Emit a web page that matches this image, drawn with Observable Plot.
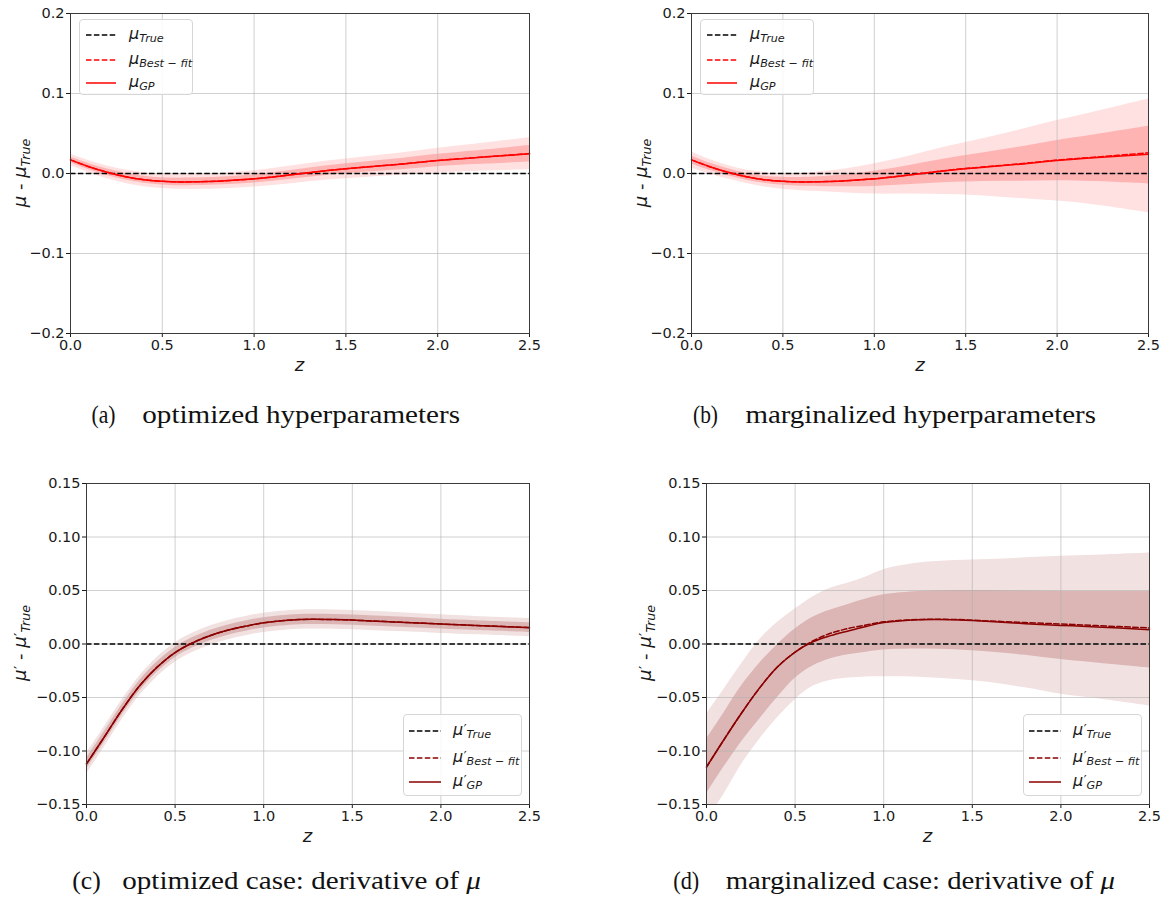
<!DOCTYPE html>
<html><head><meta charset="utf-8">
<script src="https://cdn.jsdelivr.net/npm/d3@7"></script>
<script src="https://cdn.jsdelivr.net/npm/@observablehq/plot@0.6"></script>
<style>
html,body{margin:0;padding:0;background:#fff;}
#root{position:relative;width:1168px;height:898px;overflow:hidden;font-family:"DejaVu Sans",sans-serif;color:#1a1a1a;}
.panel{position:absolute;}
.ylab,.xlab{position:absolute;font-family:"DejaVu Sans",sans-serif;font-size:18px;color:#1a1a1a;white-space:nowrap;line-height:1;}
.ylab{transform:translate(-50%,-50%) rotate(-90deg);}
.xlab{transform:translate(-50%,-50%);font-style:italic;}
.m{font-style:italic;}
.pr{font-style:normal;font-size:0.8em;position:relative;top:-0.15em;margin-left:0.5px;}
.sb{font-size:0.7em;font-style:italic;position:relative;top:0.3em;}
.legend{position:absolute;border:1px solid #d6d6d6;border-radius:4px;background:rgba(255,255,255,0.85);box-sizing:border-box;}
.lrow{position:absolute;left:0;right:0;height:0;}
.lrow svg{position:absolute;top:-3px;}
.lrow .lt{position:absolute;top:0;transform:translateY(-55%);font-family:"DejaVu Sans",sans-serif;font-size:16px;white-space:nowrap;line-height:1;}
#caps{position:absolute;left:0;top:0;pointer-events:none;}
</style>
</head><body><div id="root"></div>
<script>
// ---------- data ----------
const xTicks = [0, 0.5, 1.0, 1.5, 2.0, 2.5];
const yTicksMu = [-0.2, -0.1, 0, 0.1, 0.2];
const yTicksDmu = [-0.15, -0.10, -0.05, 0, 0.05, 0.10, 0.15];
const legendSubs = ["True", "Best \u2212 fit", "GP"];
const captionTags = ["(a)", "(b)", "(c)", "(d)"];
const captionTexts = ["optimized hyperparameters", "marginalized hyperparameters", "optimized case: derivative of ", "marginalized case: derivative of "];

// panel (a) / (b): mu - mu_True
const zMu = [0, 0.1, 0.2, 0.3, 0.4, 0.5, 0.6, 0.8, 1.0, 1.2, 1.4, 1.6, 1.8, 2.0, 2.2, 2.5];
const gpA = [0.017, 0.0085, 0.0015, -0.0040, -0.0078, -0.0098, -0.0105, -0.0096, -0.0067, -0.0017, 0.0037, 0.0079, 0.0117, 0.0162, 0.0196, 0.0246];
const bfA = [0.017, 0.0085, 0.0015, -0.0040, -0.0078, -0.0098, -0.0105, -0.0096, -0.0067, -0.0017, 0.0037, 0.0080, 0.0118, 0.0163, 0.0198, 0.0249];
const hi1A = [0.0205, 0.0122, 0.0055, 0.0002, -0.0034, -0.0053, -0.0058, -0.0047, -0.0016, 0.0038, 0.0096, 0.0143, 0.0187, 0.024, 0.0281, 0.0349];
const lo1A = [0.0135, 0.0048, -0.0025, -0.0082, -0.0122, -0.0143, -0.0152, -0.0145, -0.0118, -0.0072, -0.0022, 0.0015, 0.0047, 0.0084, 0.0111, 0.0143];
const hi2A = [0.024, 0.016, 0.0095, 0.0045, 0.001, -0.0008, -0.0012, 0.0001, 0.0035, 0.0093, 0.0155, 0.0207, 0.0257, 0.0317, 0.0366, 0.0446];
const lo2A = [0.010, 0.001, -0.0065, -0.0125, -0.0166, -0.0188, -0.0198, -0.0193, -0.0169, -0.0127, -0.0081, -0.0049, -0.0023, 0.0007, 0.0026, 0.0046];

const gpB = [0.017, 0.0085, 0.0015, -0.0040, -0.0078, -0.0098, -0.0105, -0.0096, -0.0067, -0.0017, 0.0037, 0.0079, 0.0117, 0.0162, 0.0196, 0.0240];
const bfB = [0.017, 0.0085, 0.0015, -0.0040, -0.0078, -0.0098, -0.0105, -0.0096, -0.0066, -0.0015, 0.0040, 0.0083, 0.0122, 0.0168, 0.0203, 0.0258];
const hi1B = [0.022, 0.013, 0.0058, 0.0003, -0.0033, -0.0048, -0.005, -0.0026, 0.0028, 0.0103, 0.0187, 0.0259, 0.0332, 0.0412, 0.0481, 0.059];
const lo1B = [0.012, 0.004, -0.0028, -0.0083, -0.0123, -0.0148, -0.016, -0.0166, -0.0162, -0.0137, -0.0113, -0.0101, -0.0098, -0.0090, -0.0100, -0.0130];
const hi2B = [0.027, 0.0175, 0.010, 0.0045, 0.0012, 0.0002, 0.0005, 0.0044, 0.0123, 0.0223, 0.0337, 0.0439, 0.0547, 0.0662, 0.0766, 0.093];
const lo2B = [0.007, -0.0005, -0.007, -0.0125, -0.0168, -0.0198, -0.0215, -0.0236, -0.0257, -0.0257, -0.0263, -0.0281, -0.0313, -0.0345, -0.0390, -0.049];

// panel (c) / (d): mu' - mu'_True
const zDmu = [0, 0.1, 0.2, 0.3, 0.4, 0.5, 0.6, 0.7, 0.8, 0.9, 1.0, 1.2, 1.4, 1.6, 1.8, 2.0, 2.2, 2.5];
const gpC = [-0.112, -0.087, -0.0616, -0.039, -0.0214, -0.008, 0.0012, 0.008, 0.013, 0.0167, 0.0198, 0.0228, 0.0228, 0.0216, 0.0202, 0.0186, 0.0172, 0.0153];
const bfC = [-0.112, -0.087, -0.0616, -0.039, -0.0214, -0.008, 0.0012, 0.008, 0.013, 0.0167, 0.0198, 0.0228, 0.0228, 0.0216, 0.0202, 0.0187, 0.0173, 0.0155];
const hi1C = [-0.107, -0.082, -0.0567, -0.0341, -0.0166, -0.0032, 0.006, 0.0128, 0.0178, 0.0215, 0.0246, 0.0276, 0.0276, 0.0263, 0.0249, 0.0232, 0.0218, 0.0198];
const lo1C = [-0.117, -0.092, -0.0665, -0.0439, -0.0262, -0.0128, -0.0036, 0.0032, 0.0082, 0.0119, 0.015, 0.018, 0.018, 0.0169, 0.0155, 0.014, 0.0126, 0.0108];
const hi2C = [-0.1025, -0.0776, -0.0523, -0.0298, -0.0123, 0.001, 0.0102, 0.017, 0.022, 0.0257, 0.0288, 0.0318, 0.0318, 0.0305, 0.029, 0.0273, 0.0258, 0.0238];
const lo2C = [-0.1215, -0.0964, -0.0709, -0.0482, -0.0305, -0.017, -0.0078, -0.001, 0.004, 0.0077, 0.0108, 0.0138, 0.0138, 0.0127, 0.0114, 0.0099, 0.0086, 0.0068];

const gpD = [-0.115, -0.089, -0.064, -0.041, -0.0215, -0.0075, 0.002, 0.0078, 0.0122, 0.0163, 0.0200, 0.0227, 0.0227, 0.021, 0.019, 0.0174, 0.016, 0.0134];
const bfD = [-0.115, -0.089, -0.064, -0.041, -0.0215, -0.0075, 0.0028, 0.0100, 0.0145, 0.0178, 0.0207, 0.0229, 0.0229, 0.0215, 0.020, 0.0187, 0.0172, 0.015];
const hi1D = [-0.089, -0.064, -0.0386, -0.018, -0.0006, 0.014, 0.025, 0.0318, 0.037, 0.042, 0.046, 0.049, 0.050, 0.050, 0.0495, 0.049, 0.049, 0.049];
const lo1D = [-0.140, -0.1146, -0.091, -0.070, -0.050, -0.032, -0.0205, -0.0138, -0.010, -0.0076, -0.0056, -0.0047, -0.0053, -0.0075, -0.0106, -0.0146, -0.0177, -0.0224];
const hi2D = [-0.0655, -0.042, -0.018, 0.004, 0.020, 0.0326, 0.044, 0.052, 0.057, 0.0627, 0.0695, 0.0756, 0.078, 0.079, 0.0805, 0.082, 0.083, 0.085];
const lo2D = [-0.165, -0.140, -0.112, -0.089, -0.069, -0.052, -0.0395, -0.034, -0.0318, -0.0308, -0.0307, -0.031, -0.033, -0.036, -0.041, -0.047, -0.051, -0.058];

// ---------- drawing ----------
const root = document.getElementById("root");

function makePanel(o) {
  const rows = o.z.map((zz, i) => ({z: zz, gp: o.gp[i], bf: o.bf[i], lo1: o.lo1[i], hi1: o.hi1[i], lo2: o.lo2[i], hi2: o.hi2[i]}));
  const fmt = d => (d < -1e-9 ? "\u2212" : "") + Math.abs(d).toFixed(o.digits);
  const dash = "5.5,2.4";
  const cv = "catmull-rom";
  const plot = Plot.plot({
    width: o.width, height: o.height,
    marginLeft: o.ml, marginRight: o.mr, marginTop: o.mt, marginBottom: o.mb,
    x: {domain: [0, 2.5]},
    y: {domain: o.yDomain},
    style: {fontFamily: "DejaVu Sans, sans-serif", fontSize: "14.5px", color: "#1a1a1a", background: "transparent", overflow: "visible"},
    marks: [
      Plot.areaY(rows, {x: "z", y1: "lo2", y2: "hi2", fill: o.fillOuter, curve: cv, clip: true}),
      Plot.areaY(rows, {x: "z", y1: "lo1", y2: "hi1", fill: o.fillInner, curve: cv, clip: true}),
      Plot.gridX(xTicks, {stroke: "#b0b0b0", strokeOpacity: 0.6, strokeWidth: 1}),
      Plot.gridY(o.yTicks, {stroke: "#b0b0b0", strokeOpacity: 0.6, strokeWidth: 1}),
      Plot.ruleY([0], {stroke: "#000", strokeWidth: 1.5, strokeDasharray: dash}),
      Plot.line(rows, {x: "z", y: "bf", stroke: o.lineColor, strokeWidth: 1.5, strokeDasharray: dash, curve: cv}),
      Plot.line(rows, {x: "z", y: "gp", stroke: o.lineColor, strokeWidth: 1.5, curve: cv}),
      Plot.axisX(xTicks, {tickFormat: d => d.toFixed(1), tickSize: 4, tickPadding: 2, label: null}),
      Plot.axisY(o.yTicks, {tickFormat: fmt, tickSize: 4, tickPadding: 2, label: null}),
      Plot.frame({stroke: "#3a3a3a", strokeWidth: 1})
    ]
  });
  const wrap = document.createElement("div");
  wrap.className = "panel";
  wrap.style.left = o.left + "px";
  wrap.style.top = o.top + "px";
  wrap.appendChild(plot);
  root.appendChild(wrap);

  const xl = document.createElement("div");
  xl.className = "xlab";
  xl.textContent = "z";
  xl.style.left = o.xlab[0] + "px";
  xl.style.top = o.xlab[1] + "px";
  root.appendChild(xl);

  const yl = document.createElement("div");
  yl.className = "ylab";
  const p = o.prime ? `<span class="pr">\u2032</span>` : "";
  yl.innerHTML = `<span class="m">\u03bc</span>${p} - <span class="m">\u03bc</span>${p}<span class="sb">True</span>`;
  yl.style.left = o.ylab[0] + "px";
  yl.style.top = o.ylab[1] + "px";
  root.appendChild(yl);

  const lg = document.createElement("div");
  lg.className = "legend";
  lg.style.left = o.leg.x + "px";
  lg.style.top = o.leg.y + "px";
  lg.style.width = o.leg.w + "px";
  lg.style.height = o.leg.h + "px";
  const colors = ["#000", o.lineColor, o.lineColor];
  const dashes = [true, true, false];
  legendSubs.forEach((s, i) => {
    const r = document.createElement("div");
    r.className = "lrow";
    r.style.top = o.leg.rows[i] + "px";
    r.innerHTML = `<svg width="40" height="6" style="left:${o.leg.lx}px"><line x1="0" y1="3" x2="${o.leg.lw}" y2="3" stroke="${colors[i]}" stroke-width="1.5" ${dashes[i] ? 'stroke-dasharray="5.5,2.4"' : ''}/></svg>` +
      `<span class="lt" style="left:${o.leg.tx}px"><span class="m">\u03bc</span>${p}<span class="sb">${s}</span></span>`;
    lg.appendChild(r);
  });
  root.appendChild(lg);
}

const muRed = {lineColor: "#ff0000", fillOuter: "#ffe1e1", fillInner: "#ffb4b4"};
const dmuRed = {lineColor: "#8b0000", fillOuter: "#f1e1e1", fillInner: "#dcb5b5"};

makePanel({...muRed, z: zMu, gp: gpA, bf: bfA, lo1: lo1A, hi1: hi1A, lo2: lo2A, hi2: hi2A,
  yDomain: [-0.2, 0.2], yTicks: yTicksMu, digits: 1, prime: false,
  left: 0, top: 0, width: 580, height: 360, ml: 70, mr: 51, mt: 13, mb: 27,
  xlab: [299.5, 365], ylab: [20, 173],
  leg: {x: 79, y: 19, w: 114, h: 76, rows: [15, 40, 63], lx: 6, lw: 30, tx: 49}});

makePanel({...muRed, z: zMu, gp: gpB, bf: bfB, lo1: lo1B, hi1: hi1B, lo2: lo2B, hi2: hi2B,
  yDomain: [-0.2, 0.2], yTicks: yTicksMu, digits: 1, prime: false,
  left: 620, top: 0, width: 548, height: 360, ml: 71, mr: 20, mt: 13, mb: 27,
  xlab: [920, 365], ylab: [641, 173],
  leg: {x: 700, y: 19, w: 114, h: 76, rows: [15, 40, 63], lx: 6, lw: 30, tx: 49}});

makePanel({...dmuRed, z: zDmu, gp: gpC, bf: bfC, lo1: lo1C, hi1: hi1C, lo2: lo2C, hi2: hi2C,
  yDomain: [-0.15, 0.15], yTicks: yTicksDmu, digits: 2, prime: true,
  left: 0, top: 470, width: 580, height: 361, ml: 86, mr: 51, mt: 13, mb: 27,
  xlab: [307.5, 836], ylab: [20, 643],
  leg: {x: 403, y: 714, w: 119, h: 82, rows: [16, 43, 67], lx: 5, lw: 32, tx: 49}});

makePanel({...dmuRed, z: zDmu, gp: gpD, bf: bfD, lo1: lo1D, hi1: hi1D, lo2: lo2D, hi2: hi2D,
  yDomain: [-0.15, 0.15], yTicks: yTicksDmu, digits: 2, prime: true,
  left: 620, top: 470, width: 548, height: 361, ml: 86, mr: 19, mt: 13, mb: 27,
  xlab: [927.5, 836], ylab: [645, 643],
  leg: {x: 1023, y: 714, w: 119, h: 82, rows: [16, 43, 67], lx: 5, lw: 32, tx: 49}});

// captions
const ns = "http://www.w3.org/2000/svg";
const caps = document.createElementNS(ns, "svg");
caps.setAttribute("id", "caps");
caps.setAttribute("width", 1168);
caps.setAttribute("height", 898);
const capLayout = [
  {tx: 91.5, tw: 24, x: 142.3, w: 317.7, y: 423},
  {tx: 693, tw: 25, x: 745.4, w: 350.6, y: 423},
  {tx: 72.3, tw: 28.5, x: 122.3, w: 358.5, y: 889},
  {tx: 673.3, tw: 26, x: 725.7, w: 389.3, y: 889}
];
capLayout.forEach((c, i) => {
  const t1 = document.createElementNS(ns, "text");
  t1.setAttribute("x", c.tx); t1.setAttribute("y", c.y);
  t1.setAttribute("textLength", c.tw); t1.setAttribute("lengthAdjust", "spacingAndGlyphs");
  t1.setAttribute("font-family", "Liberation Serif, serif"); t1.setAttribute("font-size", 25);
  t1.setAttribute("fill", "#111");
  t1.textContent = captionTags[i];
  caps.appendChild(t1);
  const t2 = document.createElementNS(ns, "text");
  t2.setAttribute("x", c.x); t2.setAttribute("y", c.y);
  t2.setAttribute("textLength", c.w); t2.setAttribute("lengthAdjust", "spacingAndGlyphs");
  t2.setAttribute("font-family", "Liberation Serif, serif"); t2.setAttribute("font-size", 25);
  t2.setAttribute("fill", "#111");
  t2.setAttribute("xml:space", "preserve");
  t2.appendChild(document.createTextNode(captionTexts[i]));
  if (i >= 2) {
    const mu = document.createElementNS(ns, "tspan");
    mu.setAttribute("font-style", "italic");
    mu.textContent = "\u03bc";
    t2.appendChild(mu);
  }
  caps.appendChild(t2);
});
root.appendChild(caps);
</script>
</body></html>
